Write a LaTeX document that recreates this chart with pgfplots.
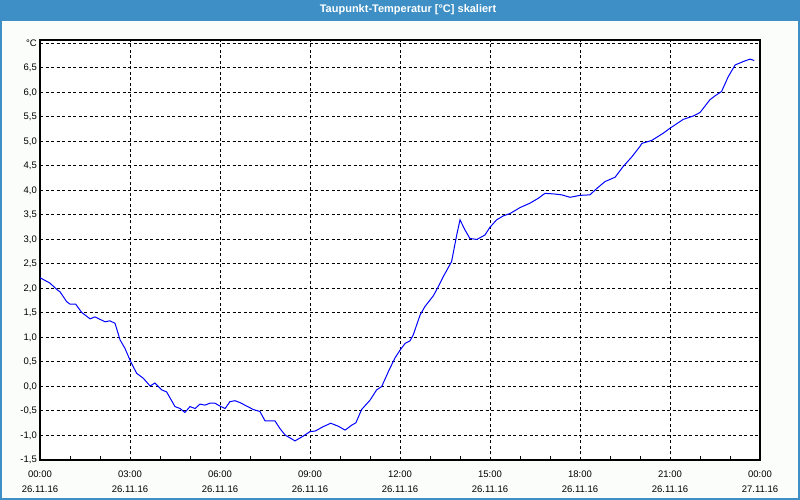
\documentclass[border=0pt]{standalone}
\usepackage{pgfplots}
\pgfplotsset{compat=1.18}
\usepackage{fontspec}
\setmainfont{Liberation Sans}
\definecolor{barblue}{RGB}{61,143,198}
\definecolor{bg}{RGB}{251,253,251}
\begin{document}
\begin{tikzpicture}
\path[use as bounding box] (0pt,0pt) rectangle (800pt,500pt);
\fill[bg] (0pt,0pt) rectangle (800pt,500pt);
\fill[barblue] (0pt,479pt) rectangle (800pt,500pt);
\draw[barblue, line width=2pt] (1pt,479pt) -- (1pt,1pt) -- (799pt,1pt) -- (799pt,479pt);
\node[white, font=\bfseries\fontsize{11}{13}\selectfont] at (408pt,490.5pt) {Taupunkt-Temperatur [°C] skaliert};
\begin{axis}[
  at={(40pt,40pt)}, anchor=south west, scale only axis,
  width=720pt, height=420pt,
  xmin=0, xmax=24, ymin=-1.5, ymax=7.07,
  axis background/.style={fill=white},
  xtick={0,3,6,9,12,15,18,21,24},
  xticklabels={{00:00\\26.11.16},{03:00\\26.11.16},{06:00\\26.11.16},{09:00\\26.11.16},{12:00\\26.11.16},{15:00\\26.11.16},{18:00\\26.11.16},{21:00\\26.11.16},{00:00\\27.11.16}},
  minor xtick={1,2,4,5,7,8,10,11,13,14,16,17,19,20,22,23},
  ytick={-1.5,-1,-0.5,0,0.5,1,1.5,2,2.5,3,3.5,4,4.5,5,5.5,6,6.5,7},
  yticklabels={{-1,5},{-1,0},{-0,5},{0,0},{0,5},{1,0},{1,5},{2,0},{2,5},{3,0},{3,5},{4,0},{4,5},{5,0},{5,5},{6,0},{6,5},{°C}},
  grid=major,
  major grid style={black, line width=1pt, dash pattern=on 3pt off 2.5pt},
  axis line style={black, line width=1.2pt},
  tick style={black, line width=1pt},
  major tick length=0pt, minor tick length=4pt,
  xtick pos=bottom, ytick pos=left,
  xticklabel style={align=center, font=\fontsize{9.5}{15}\selectfont, inner sep=2pt, yshift=-9pt},
  yticklabel style={font=\fontsize{9.5}{11}\selectfont, inner sep=2pt, xshift=-1pt},
]
\addplot[blue, line width=1pt] coordinates {
(0.0,2.22) (0.33,2.11) (0.56,1.98) (0.67,1.93) (0.89,1.73) (1.0,1.68) (1.19,1.68)
(1.39,1.51) (1.67,1.38) (1.83,1.42) (2.17,1.32) (2.33,1.34) (2.5,1.29) (2.67,0.95)
(2.83,0.78) (3.02,0.51) (3.22,0.27) (3.44,0.17) (3.67,0.01) (3.83,0.07) (4.06,-0.07)
(4.22,-0.11) (4.5,-0.41) (4.67,-0.45) (4.83,-0.53) (5.0,-0.41) (5.17,-0.45) (5.33,-0.36)
(5.5,-0.38) (5.67,-0.34) (5.83,-0.34) (6.0,-0.40) (6.17,-0.45) (6.33,-0.31) (6.5,-0.29)
(6.67,-0.33) (6.89,-0.40) (7.11,-0.47) (7.33,-0.51) (7.5,-0.70) (7.83,-0.70) (8.0,-0.86)
(8.17,-0.99) (8.5,-1.11) (8.78,-1.01) (9.0,-0.92) (9.17,-0.91) (9.44,-0.82) (9.69,-0.75)
(9.94,-0.81) (10.17,-0.89) (10.39,-0.79) (10.53,-0.74) (10.72,-0.47) (11.0,-0.28)
(11.22,-0.07) (11.39,0.0) (11.61,0.30) (11.83,0.58) (12.0,0.74) (12.17,0.88) (12.33,0.93)
(12.44,1.05) (12.67,1.46) (12.83,1.63) (13.11,1.85) (13.28,2.04) (13.44,2.24) (13.64,2.46)
(13.72,2.55) (13.89,3.09) (14.0,3.40) (14.17,3.19) (14.33,3.02) (14.56,3.00) (14.83,3.09)
(15.0,3.25) (15.22,3.40) (15.44,3.48) (15.67,3.53) (16.0,3.65) (16.33,3.74) (16.61,3.84)
(16.83,3.94) (17.11,3.93) (17.39,3.91) (17.67,3.86) (18.0,3.90) (18.33,3.91) (18.56,4.04)
(18.83,4.18) (19.17,4.27) (19.44,4.49) (19.72,4.68) (20.0,4.90) (20.06,4.96) (20.39,5.02)
(20.78,5.17) (21.0,5.27) (21.44,5.45) (21.78,5.52) (22.0,5.59) (22.33,5.85) (22.5,5.93)
(22.72,6.02) (22.94,6.32) (23.17,6.56) (23.44,6.63) (23.67,6.68) (23.81,6.65)
};
\end{axis}
\end{tikzpicture}
\end{document}
